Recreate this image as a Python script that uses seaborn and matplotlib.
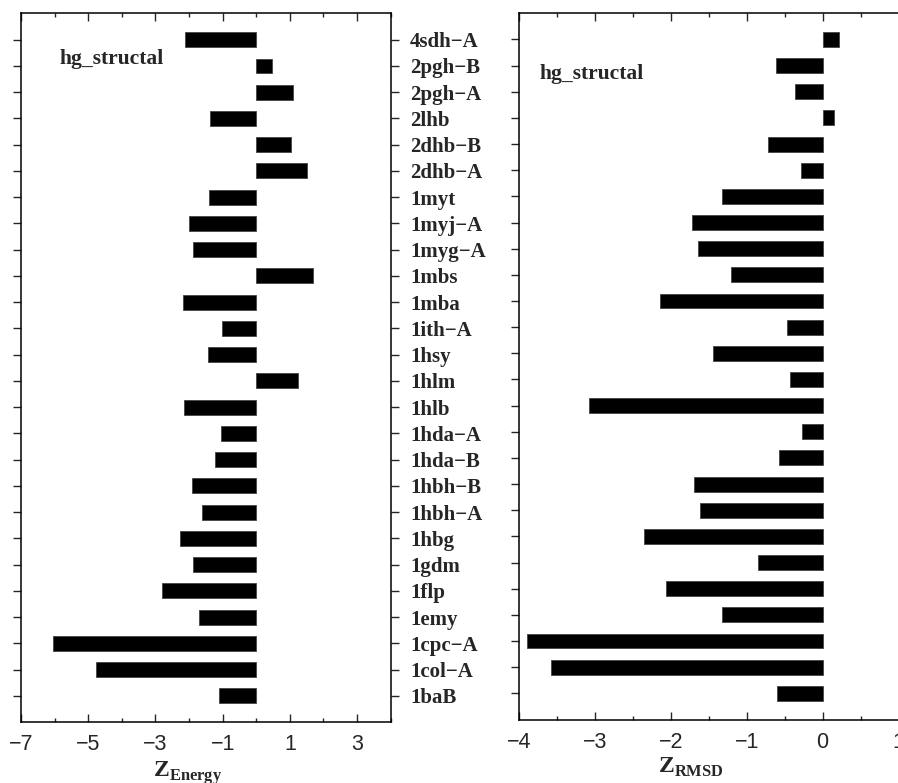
import matplotlib
matplotlib.use("Agg")
import matplotlib.pyplot as plt
from matplotlib.ticker import MultipleLocator, FixedLocator
import seaborn as sns
import pandas as pd

M = "\u2212"
proteins = ["4sdh" + M + "A", "2pgh" + M + "B", "2pgh" + M + "A", "2lhb", "2dhb" + M + "B",
            "2dhb" + M + "A", "1myt", "1myj" + M + "A", "1myg" + M + "A", "1mbs", "1mba",
            "1ith" + M + "A", "1hsy", "1hlm", "1hlb", "1hda" + M + "A", "1hda" + M + "B",
            "1hbh" + M + "B", "1hbh" + M + "A", "1hbg", "1gdm", "1flp", "1emy",
            "1cpc" + M + "A", "1col" + M + "A", "1baB"]
z_energy = [-2.11, 0.47, 1.08, -1.38, 1.02, 1.52, -1.42, -2.01, -1.88, 1.70, -2.17,
            -1.02, -1.44, 1.25, -2.15, -1.04, -1.24, -1.92, -1.61, -2.27, -1.87,
            -2.80, -1.69, -6.06, -4.76, -1.12]
z_rmsd = [0.21, -0.62, -0.36, 0.15, -0.72, -0.28, -1.32, -1.72, -1.64, -1.21, -2.14,
          -0.47, -1.44, -0.43, -3.08, -0.27, -0.58, -1.69, -1.62, -2.35, -0.85,
          -2.06, -1.33, -3.89, -3.58, -0.60]
energy_ticks = [-7, -5, -3, -1, 1, 3]
rmsd_ticks = [-4, -3, -2, -1, 0, 1]
panel_title = "hg_structal"

df = pd.DataFrame({"protein": proteins, "energy": z_energy, "rmsd": z_rmsd})

sns.set_style("ticks")
plt.rcParams["mathtext.fontset"] = "custom"
plt.rcParams["mathtext.rm"] = "Liberation Serif:bold"
plt.rcParams["mathtext.bf"] = "Liberation Serif:bold"
plt.rcParams["font.family"] = ["Liberation Sans", "DejaVu Sans"]
plt.rcParams["axes.unicode_minus"] = True

W, H = 898, 783
fig = plt.figure(figsize=(W / 100, H / 100), dpi=100)
ax1 = fig.add_axes([21 / W, (H - 722) / H, 369.7 / W, 708.5 / H])
ax2 = fig.add_axes([519 / W, (H - 719.5) / H, 379.6 / W, 706.2 / H])

serif = ["Liberation Serif", "DejaVu Serif"]

sns.barplot(data=df, y="protein", x="energy", orient="h", color="black",
            width=0.57, edgecolor="#444444", linewidth=0.6, ax=ax1, saturation=1)
sns.barplot(data=df, y="protein", x="rmsd", orient="h", color="black",
            width=0.57, edgecolor="#444444", linewidth=0.6, ax=ax2, saturation=1)

n = len(proteins)
for ax in (ax1, ax2):
    ax.set_ylim(n, -1)
    ax.set_ylabel("")
    for s in ax.spines.values():
        s.set_visible(True)
        s.set_linewidth(1.1)
        s.set_color("black")

# left panel
ax1.set_xlim(-7, 4)
ax1.xaxis.set_major_locator(FixedLocator(energy_ticks))
ax1.xaxis.set_minor_locator(MultipleLocator(1))
ax1.tick_params(axis="x", which="both", direction="in", top=True, bottom=True,
                labelsize=15.5, pad=9)
ax1.tick_params(axis="x", which="major", length=6, width=1)
ax1.tick_params(axis="x", which="minor", length=3, width=1)
ax1.tick_params(axis="y", which="both", direction="out", left=True, right=True,
                labelleft=False, labelright=True, length=6, width=1, pad=8)
for lbl in ax1.get_yticklabels():
    lbl.set_fontfamily(serif)
    lbl.set_fontweight("bold")
    lbl.set_fontsize(15)
ax1.set_xlabel(r"$\mathbf{Z}_{\mathbf{Energy}}$", fontsize=17, labelpad=0)
ax1.xaxis.set_label_coords(0.45, -0.052)
ax1.text(0.105, 0.929, panel_title, transform=ax1.transAxes, fontfamily=serif,
         fontweight="bold", fontsize=15.5, ha="left", va="baseline")

# right panel
ax2.set_xlim(-4, 1)
ax2.xaxis.set_major_locator(FixedLocator(rmsd_ticks))
ax2.xaxis.set_minor_locator(MultipleLocator(0.5))
ax2.tick_params(axis="x", which="both", direction="in", top=True, bottom=True,
                labelsize=15.5, pad=9)
ax2.tick_params(axis="x", which="major", length=6, width=1)
ax2.tick_params(axis="x", which="minor", length=3, width=1)
ax2.tick_params(axis="y", which="both", direction="out", left=True, right=True,
                labelleft=False, labelright=False, length=6, width=1)
ax2.set_xlabel(r"$\mathbf{Z}_{\mathbf{RMSD}}$", fontsize=17, labelpad=0)
ax2.xaxis.set_label_coords(0.453, -0.052)
ax2.text(0.055, 0.907, panel_title, transform=ax2.transAxes, fontfamily=serif,
         fontweight="bold", fontsize=15.5, ha="left", va="baseline")

fig.savefig("out.png", dpi=100)
